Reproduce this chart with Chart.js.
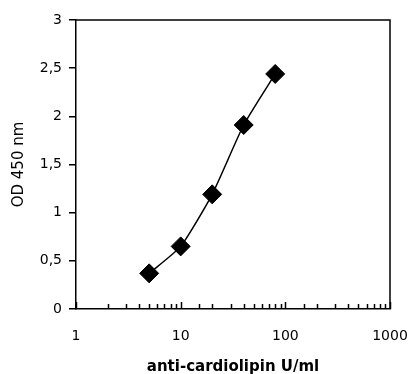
<!DOCTYPE html>
<html>
<head>
<meta charset="utf-8">
<script src="https://cdn.jsdelivr.net/npm/chart.js@4/dist/chart.umd.min.js"></script>
<style>
  html, body { margin: 0; padding: 0; background: #fff; }
  #wrap { width: 410px; height: 374px; }
</style>
</head>
<body>
<div id="wrap"><canvas id="c" width="410" height="374"></canvas></div>
<script>
// Data
const concentrations = [5, 10, 20, 40, 80];          // anti-cardiolipin U/ml
const odValues = [0.37, 0.65, 1.19, 1.91, 2.44];    // OD 450 nm
const xTickLabels = [1, 10, 100, 1000];
const yTitle = 'OD 450 nm';
const xTitle = 'anti-cardiolipin U/ml';

const FONT = "'DejaVu Sans', Verdana, sans-serif";

const framePlugin = {
  id: 'frame',
  afterDraw(chart) {
    const {ctx, chartArea: a, scales: {x}} = chart;
    ctx.save();
    ctx.strokeStyle = '#000';
    ctx.lineWidth = 1.5;
    // inward x ticks
    x.ticks.forEach(t => {
      const px = Math.round(x.getPixelForValue(t.value)) + 0.5;
      const major = xTickLabels.includes(t.value);
      const len = major ? 7 : 5;
      ctx.beginPath();
      ctx.moveTo(px, a.bottom);
      ctx.lineTo(px, a.bottom - len);
      ctx.stroke();
    });
    // top and right frame
    ctx.beginPath();
    ctx.moveTo(a.left, a.top);
    ctx.lineTo(a.right, a.top);
    ctx.lineTo(a.right, a.bottom);
    ctx.stroke();
    ctx.restore();
  }
};

new Chart(document.getElementById('c'), {
  type: 'line',
  data: {
    datasets: [{
      data: concentrations.map((c, i) => ({x: c, y: odValues[i]})),
      borderColor: '#000',
      backgroundColor: '#000',
      borderWidth: 1.5,
      tension: 0.18,
      pointStyle: 'rectRot',
      pointRadius: 9.5,
      pointBorderWidth: 1,
      pointBackgroundColor: '#000',
      pointBorderColor: '#000',
      fill: false
    }]
  },
  options: {
    responsive: false,
    animation: false,
    layout: { padding: { top: 20, right: 20, left: 0, bottom: 0 } },
    plugins: { legend: { display: false }, tooltip: { enabled: false } },
    scales: {
      x: {
        type: 'logarithmic',
        min: 1,
        max: 1000,
        afterFit(s) { s.height = 65; s.paddingLeft = 0; s.paddingRight = 0; },
        grid: { display: false, drawTicks: false },
        border: { display: true, color: '#000', width: 1.5 },
        ticks: {
          autoSkip: false,
          maxRotation: 0,
          padding: 19,
          color: '#000',
          font: { family: FONT, size: 14 },
          callback: v => xTickLabels.includes(v) ? String(v) : ''
        },
        title: {
          display: true,
          text: xTitle,
          color: '#000',
          font: { family: FONT, size: 15, weight: 'bold', lineHeight: 1.2 },
          padding: { top: 0, bottom: -2 }
        }
      },
      y: {
        min: 0,
        max: 3,
        afterFit(s) { s.width = 76; },
        grid: { display: true, drawOnChartArea: false, drawTicks: true, tickLength: 7, color: '#000', lineWidth: 1.5 },
        border: { display: true, color: '#000', width: 1.5 },
        ticks: {
          stepSize: 0.5,
          padding: 7,
          color: '#000',
          font: { family: FONT, size: 14 },
          callback: v => String(v).replace('.', ',')
        },
        title: {
          display: true,
          text: yTitle,
          color: '#000',
          font: { family: FONT, size: 15, lineHeight: 1.2 },
          padding: { top: 10, bottom: 0 }
        }
      }
    }
  },
  plugins: [framePlugin]
});
</script>
</body>
</html>
